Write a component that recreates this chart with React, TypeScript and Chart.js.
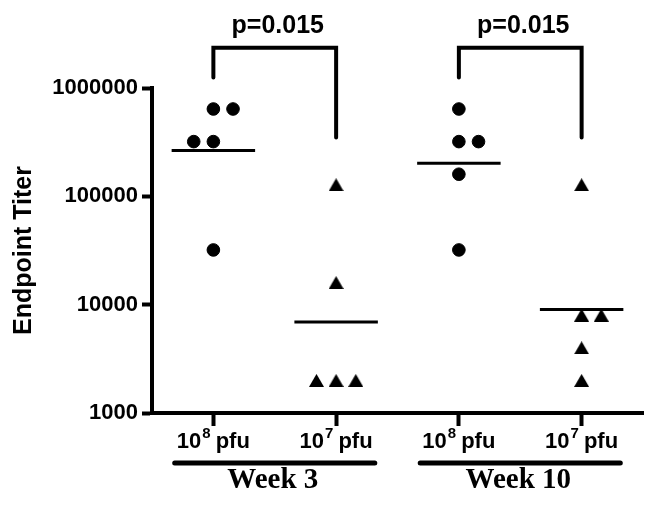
import React, { useEffect, useRef } from "react";
import { Chart, registerables } from "chart.js";

Chart.register(...registerables);

// ---------- data ----------
const doseBase = "10";
const doseExponents = ["8", "7", "8", "7"];
const doseUnit = "pfu";
const weekLabels = ["Week 3", "Week 10"];
const yTicks = [1000, 10000, 100000, 1000000];
const yTitle = "Endpoint Titer";

const week3High = [640000, 640000, 320000, 320000, 32000];
const week3HighJitter = [0, 0.16, -0.16, 0, 0];
const week3Low = [128000, 16000, 2000, 2000, 2000];
const week3LowJitter = [0, 0, -0.16, 0, 0.16];
const week10High = [640000, 320000, 320000, 160000, 32000];
const week10HighJitter = [0, 0, 0.16, 0, 0];
const week10Low = [128000, 8000, 8000, 4000, 2000];
const week10LowJitter = [0, 0, 0.16, 0, 0];

const groupMeans = [265000, 6900, 202000, 9000];
const pValues = ["p=0.015", "p=0.015"];
// bracket: [left category, right category, top value, left end value, right end value]
const brackets = [
  [0, 1, 2350000, 1250000, 350000],
  [2, 3, 2350000, 1250000, 350000],
];

const FONT = "'Liberation Sans', Arial, Helvetica, sans-serif";
const SERIF = "'Liberation Serif', 'Times New Roman', serif";

function pts(values: number[], jitter: number[], cat: number) {
  return values.map((v, i) => ({ x: cat + jitter[i], y: v }));
}

function makeTriangle() {
  const c = document.createElement("canvas");
  c.width = 15;
  c.height = 13;
  const g = c.getContext("2d")!;
  g.fillStyle = "#000";
  g.beginPath();
  g.moveTo(0, 13);
  g.lineTo(7.5, 0);
  g.lineTo(15, 13);
  g.closePath();
  g.fill();
  return c;
}

const annotationPlugin = {
  id: "annotations",
  afterDraw(chart: any) {
    const { ctx, chartArea } = chart;
    const xs = chart.scales.x;
    const ys = chart.scales.y;
    ctx.save();
    ctx.strokeStyle = "#000";
    ctx.fillStyle = "#000";

    // brackets + p values
    brackets.forEach((b, i) => {
      const [c0, c1, top, lEnd, rEnd] = b;
      const x0 = xs.getPixelForValue(c0);
      const x1 = xs.getPixelForValue(c1);
      const yt = ys.getPixelForValue(top);
      ctx.lineWidth = 4;
      ctx.lineCap = "round";
      ctx.lineJoin = "miter";
      ctx.beginPath();
      ctx.moveTo(x0, ys.getPixelForValue(lEnd));
      ctx.lineTo(x0, yt);
      ctx.lineTo(x1, yt);
      ctx.lineTo(x1, ys.getPixelForValue(rEnd));
      ctx.stroke();
      ctx.font = `bold 25px ${FONT}`;
      ctx.textAlign = "center";
      ctx.textBaseline = "alphabetic";
      ctx.fillText(pValues[i], (x0 + x1) / 2 + 3, yt - 15);
    });

    // dose labels with superscripts
    const baseY = chartArea.bottom + 35;
    doseExponents.forEach((exp, i) => {
      const x = xs.getPixelForValue(i);
      ctx.font = `bold 22px ${FONT}`;
      const wBase = ctx.measureText(doseBase).width;
      const wUnit = ctx.measureText(doseUnit).width;
      ctx.font = `bold 15px ${FONT}`;
      const wExp = ctx.measureText(exp).width;
      const gap = 6;
      const total = wBase + wExp + gap + wUnit;
      let sx = x - total / 2;
      ctx.textAlign = "left";
      ctx.font = `bold 22px ${FONT}`;
      ctx.fillText(doseBase, sx, baseY);
      sx += wBase + 1;
      ctx.font = `bold 15px ${FONT}`;
      ctx.fillText(exp, sx, baseY - 10);
      sx += wExp + gap - 1;
      ctx.font = `bold 22px ${FONT}`;
      ctx.fillText(doseUnit, sx, baseY);
    });

    // week group lines and labels
    weekLabels.forEach((label, g) => {
      const center = 2 * g + 0.5;
      const xa = xs.getPixelForValue(center - 0.815);
      const xb = xs.getPixelForValue(center + 0.815);
      const ly = chartArea.bottom + 50;
      ctx.lineWidth = 5;
      ctx.lineCap = "round";
      ctx.beginPath();
      ctx.moveTo(xa, ly);
      ctx.lineTo(xb, ly);
      ctx.stroke();
      ctx.font = `bold 29px ${SERIF}`;
      ctx.textAlign = "center";
      ctx.fillText(label, xs.getPixelForValue(center) - 2, chartArea.bottom + 75);
    });
    ctx.restore();
  },
};

export default function App() {
  const ref = useRef<HTMLCanvasElement | null>(null);

  useEffect(() => {
    if (!ref.current) return;
    const triImg = makeTriangle();
    const circle = {
      pointStyle: "circle",
      pointRadius: 6.3,
      pointBackgroundColor: "#000",
      pointBorderColor: "#000",
      pointBorderWidth: 1,
      showLine: false,
    };
    const tri = {
      pointStyle: triImg,
      pointRadius: 7.5,
      pointBackgroundColor: "#000",
      pointBorderColor: "#000",
      pointBorderWidth: 0,
      showLine: false,
    };
    const meanSets = groupMeans.map((m, i) => ({
      type: "line",
      data: [
        { x: i - 0.34, y: m },
        { x: i + 0.34, y: m },
      ],
      borderColor: "#000",
      borderWidth: 3,
      pointRadius: 0,
      showLine: true,
      fill: false,
    }));
    const chart = new Chart(ref.current, {
      type: "scatter",
      data: {
        datasets: [
          { data: pts(week3High, week3HighJitter, 0), ...circle },
          { data: pts(week3Low, week3LowJitter, 1), ...tri },
          { data: pts(week10High, week10HighJitter, 2), ...circle },
          { data: pts(week10Low, week10LowJitter, 3), ...tri },
          ...meanSets,
        ] as any,
      },
      options: {
        animation: false,
        responsive: false,
        devicePixelRatio: 1,
        layout: { padding: { top: 88, right: 14, left: 0, bottom: 0 } },
        plugins: {
          legend: { display: false },
          tooltip: { enabled: false },
        },
        scales: {
          x: {
            type: "linear",
            min: -0.5,
            max: 3.5,
            afterBuildTicks: (s: any) => {
              s.ticks = doseExponents.map((_, i) => ({ value: i }));
            },
            afterFit: (s: any) => {
              s.height = 96;
            },
            ticks: { display: false },
            grid: {
              drawOnChartArea: false,
              drawTicks: true,
              tickLength: 13,
              tickWidth: 4,
              tickColor: "#000",
            },
            border: { display: true, color: "#000", width: 4 },
          },
          y: {
            type: "logarithmic",
            min: 1000,
            max: 1000000,
            afterBuildTicks: (s: any) => {
              s.ticks = yTicks.map((v) => ({ value: v }));
            },
            afterFit: (s: any) => {
              s.width = 152;
            },
            ticks: {
              callback: (v: any) => String(v),
              color: "#000",
              padding: 4,
              font: { family: FONT, size: 22, weight: "bold" },
            },
            grid: {
              drawOnChartArea: false,
              drawTicks: true,
              tickLength: 10,
              tickWidth: 4,
              tickColor: "#000",
            },
            border: { display: true, color: "#000", width: 4 },
            title: {
              display: true,
              text: yTitle,
              color: "#000",
              padding: { top: 9, bottom: 0 },
              font: { family: FONT, size: 25, weight: "bold" },
            },
          },
        },
      } as any,
      plugins: [annotationPlugin],
    });
    return () => chart.destroy();
  }, []);

  return (
    <div style={{ position: "absolute", left: 0, top: 0, width: 657, height: 509, background: "#fff" }}>
      <canvas ref={ref} width={657} height={509} style={{ display: "block" }} />
    </div>
  );
}
